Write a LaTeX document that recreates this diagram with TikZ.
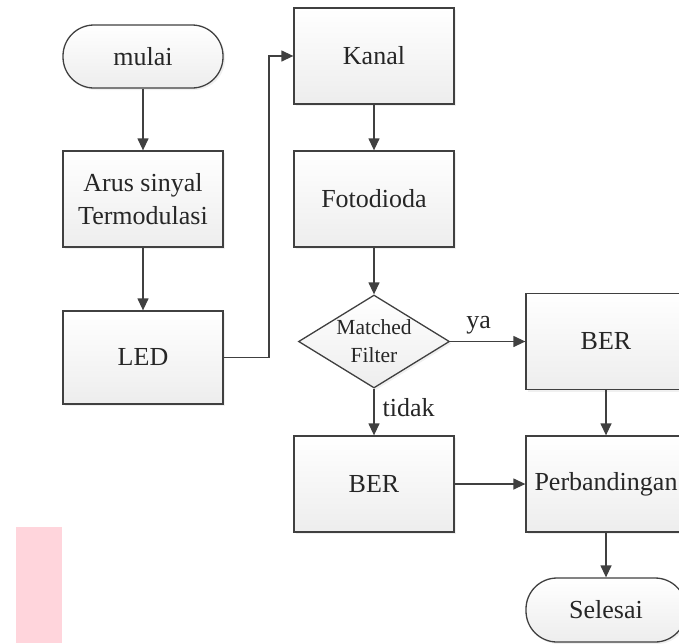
\documentclass[tikz,border=0pt]{standalone}
\usepackage{fontspec}
\setmainfont{Liberation Serif}
\usetikzlibrary{arrows.meta,shapes.geometric,shadows,calc}
\definecolor{ln}{HTML}{404040}
\definecolor{pinkbar}{HTML}{FFD5DC}
\begin{document}
\begin{tikzpicture}[x=1pt,y=-1pt,
 base/.style={draw=ln,line width=1.3pt,top color=white,bottom color=black!7,inner sep=0pt,align=center,
   text=black!85,font=\fontsize{26}{33}\selectfont,
   drop shadow={shadow xshift=2pt,shadow yshift=-2pt,opacity=0.12}},
 box/.style={base,rectangle,minimum width=160pt,minimum height=96pt},
 term/.style={base,rectangle,rounded corners=31pt,minimum width=160pt,minimum height=63pt},
 dec/.style={base,diamond,minimum width=151pt,minimum height=93pt},
 arr/.style={draw=ln,line width=1.3pt,-{Triangle[length=12pt,width=11pt]}},
 lbl/.style={font=\fontsize{26}{30}\selectfont,text=black!85,inner sep=0pt}
]
\useasboundingbox (0,0) rectangle (679,643);
\clip (0,0) rectangle (679,643);
\fill[pinkbar] (16,527) rectangle (62,643);

\node[term] (mulai) at (143,56.5) {mulai};
\node[box] (arus) at (143,199) {Arus sinyal\\Termodulasi};
\node[box,minimum height=93pt] (led) at (143,357.5) {LED};
\node[box] (kanal) at (374,56) {Kanal};
\node[box] (foto) at (374,199) {Fotodioda};
\node[dec] (mf) at (374,341.5) {};
\node[lbl,align=center,font=\fontsize{21.5}{28}\selectfont] (mftext) at (374,341.5) {Matched\\Filter};
\node[box] (ber1) at (606,341.5) {BER};
\node[box] (ber2) at (374,484) {BER};
\node[box] (perb) at (606,484) {Perbandingan};
\node[term,minimum height=64pt] (selesai) at (606,610) {Selesai};
\coordinate (bend) at (269,0);

\draw[arr] (mulai.south) -- (arus.north);
\draw[arr] (arus.south) -- (led.north);
\draw[arr] (led.east) -- (led.east -| bend) |- (kanal.west);
\draw[arr] (kanal.south) -- (foto.north);
\draw[arr] (foto.south) -- (mf.north);
\draw[arr] (mf.east) -- (ber1.west) node[lbl,pos=0.38,above=7pt] (ya) {ya};
\draw[arr] (mf.south) -- (ber2.north) node[lbl,pos=0.4,right=8pt] (tidak) {tidak};
\draw[arr] (ber1.south) -- (perb.north);
\draw[arr] (ber2.east) -- (perb.west);
\draw[arr] (perb.south) -- (selesai.north);
\end{tikzpicture}
\end{document}
